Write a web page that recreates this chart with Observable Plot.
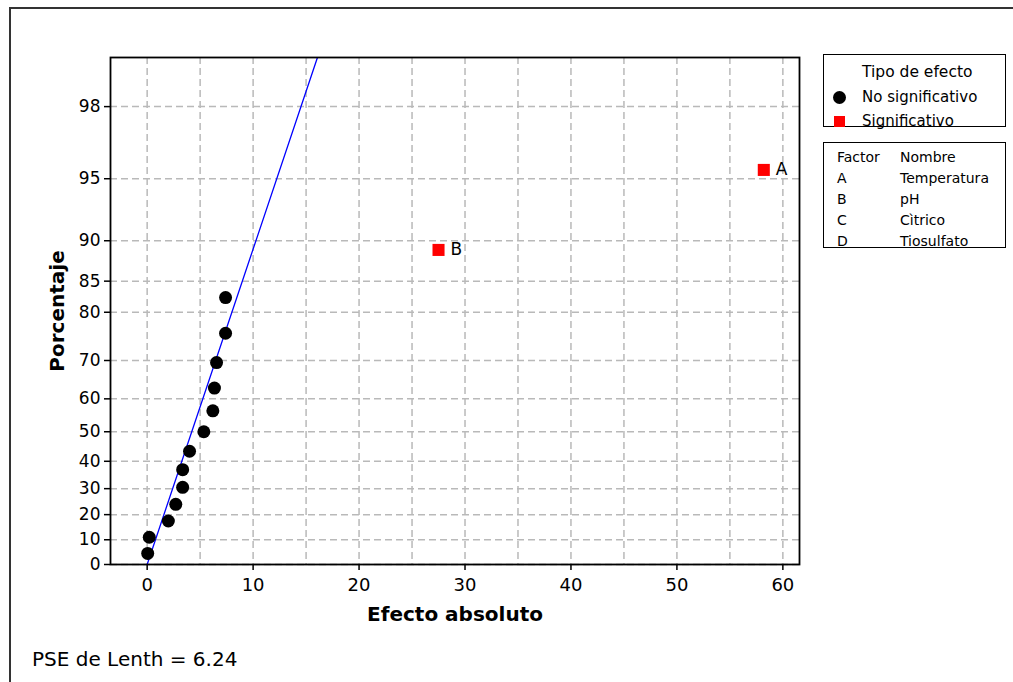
<!DOCTYPE html>
<html>
<head>
<meta charset="utf-8">
<script src="https://cdn.jsdelivr.net/npm/d3@7"></script>
<script src="https://cdn.jsdelivr.net/npm/@observablehq/plot@0.6"></script>
<style>
  html, body { margin: 0; padding: 0; background: #fff; }
  #wrap { position: relative; width: 1013px; height: 682px; overflow: hidden; font-family: "DejaVu Sans", sans-serif; color: #000; }
  #wrap svg { position: absolute; left: 0; top: 0; }
  .outer { position: absolute; left: 9px; top: 7px; width: 1100px; height: 800px; border: 2px solid #333; }
  .box { position: absolute; border: 1.5px solid #000; background: #fff; box-sizing: border-box; }
  .t { position: absolute; white-space: nowrap; line-height: 20px; height: 20px; }
  .cap { position: absolute; left: 32px; top: 647px; font-size: 20px; line-height: 24px; white-space: nowrap; }
</style>
</head>
<body>
<div id="wrap">
  <div class="outer"></div>
</div>
<script>
// ---- data ----
const effects  = [0.05, 0.2, 2.0, 2.7, 3.35, 3.35, 4.0, 5.35, 6.2, 6.35, 6.55, 7.4, 7.4, 27.5, 58.2];
const percents = [4.5, 11.0, 17.5, 24.0, 30.5, 37.0, 43.5, 50.0, 56.5, 63.0, 69.5, 76.0, 82.5, 89.0, 95.5];
const effectType = ["No significativo","No significativo","No significativo","No significativo","No significativo",
  "No significativo","No significativo","No significativo","No significativo","No significativo",
  "No significativo","No significativo","No significativo","Significativo","Significativo"];
const pointLabels = ["","","","","","","","","","","","","","B","A"];
const yTicks = [0, 10, 20, 30, 40, 50, 60, 70, 80, 85, 90, 95, 98];
const xTicks = [0, 10, 20, 30, 40, 50, 60];
const xGrid  = [0, 5, 10, 15, 20, 25, 30, 35, 40, 45, 50, 55, 60];
const yMaxPercent = 99;
const PSE = 6.24;
const factorCodes = ["A", "B", "C", "D"];
const factorNames = ["Temperatura", "pH", "Cìtrico", "Tiosulfato"];

// ---- half-normal probability transform ----
function probit(p) {
  const a=[-3.969683028665376e+01,2.209460984245205e+02,-2.759285104469687e+02,1.383577518672690e+02,-3.066479806614716e+01,2.506628277459239e+00];
  const b=[-5.447609879822406e+01,1.615858368580409e+02,-1.556989798598866e+02,6.680131188771972e+01,-1.328068155288572e+01];
  const c=[-7.784894002430293e-03,-3.223964580411365e-01,-2.400758277161838e+00,-2.549732539343734e+00,4.374664141464968e+00,2.938163982698783e+00];
  const d=[7.784695709041462e-03,3.224671290700398e-01,2.445134137142996e+00,3.754408661907416e+00];
  const plow = 0.02425, phigh = 1 - plow;
  let q, r;
  if (p < plow) {
    q = Math.sqrt(-2*Math.log(p));
    return (((((c[0]*q+c[1])*q+c[2])*q+c[3])*q+c[4])*q+c[5])/((((d[0]*q+d[1])*q+d[2])*q+d[3])*q+1);
  }
  if (p <= phigh) {
    q = p - 0.5; r = q*q;
    return (((((a[0]*r+a[1])*r+a[2])*r+a[3])*r+a[4])*r+a[5])*q/(((((b[0]*r+b[1])*r+b[2])*r+b[3])*r+b[4])*r+1);
  }
  q = Math.sqrt(-2*Math.log(1-p));
  return -(((((c[0]*q+c[1])*q+c[2])*q+c[3])*q+c[4])*q+c[5])/((((d[0]*q+d[1])*q+d[2])*q+d[3])*q+1);
}
const hz = pct => probit(0.5 + pct / 200);

const data = effects.map((e, i) => ({effect: e, z: hz(percents[i]), type: effectType[i], label: pointLabels[i]}));
const zTicks = yTicks.map(hz);
const labelOf = new Map(zTicks.map((z, i) => [z, String(yTicks[i])]));
const zTop = hz(yMaxPercent);
const refLine = [0, zTop];

const gridStyle = {stroke: "#b9b9b9", strokeOpacity: 1, strokeWidth: 1.5, strokeDasharray: "7,4"};

const chart = Plot.plot({
  width: 1013,
  height: 682,
  marginLeft: 110,
  marginRight: 214,
  marginTop: 57,
  marginBottom: 118,
  x: {domain: [-3.46, 61.57]},
  y: {domain: [0, zTop]},
  style: {fontFamily: "DejaVu Sans, sans-serif", fontSize: "17px", color: "#000", background: "transparent", overflow: "visible"},
  marks: [
    Plot.gridX(xGrid, gridStyle),
    Plot.gridY(zTicks, gridStyle),
    Plot.line(refLine, {x: z => PSE * z, y: z => z, stroke: "#0000ff", strokeWidth: 1.3, clip: true}),
    Plot.dot(data.filter(d => d.type === "No significativo"), {x: "effect", y: "z", r: 6.5, fill: "#000", stroke: "none"}),
    Plot.dot(data.filter(d => d.type === "Significativo"), {x: "effect", y: "z", r: 6.8, symbol: "square", fill: "#ff0000", stroke: "none"}),
    Plot.text(data.filter(d => d.label), {x: "effect", y: "z", text: "label", dx: 12, textAnchor: "start", fontSize: 17}),
    Plot.frame({stroke: "#000", strokeWidth: 1.8}),
    Plot.axisX(xTicks, {tickSize: 6, tickPadding: 8, label: null, fontSize: 18, strokeWidth: 1.5}),
    Plot.axisY(zTicks, {tickSize: 6, tickPadding: 4, label: null, tickFormat: z => labelOf.get(z), fontSize: 17, strokeWidth: 1.5}),
    Plot.text(["Efecto absoluto"], {text: d => d, frameAnchor: "bottom", dy: 56, textAnchor: "middle", fontWeight: "bold", fontSize: 20}),
    Plot.text(["Porcentaje"], {text: d => d, frameAnchor: "left", dx: -53, rotate: -90, textAnchor: "middle", fontWeight: "bold", fontSize: 20})
  ]
});

const wrap = document.getElementById("wrap");
wrap.appendChild(chart);

// ---- legend boxes ----
function addBox(left, top, w, h) {
  const b = document.createElement("div");
  b.className = "box";
  Object.assign(b.style, {left: left + "px", top: top + "px", width: w + "px", height: h + "px"});
  wrap.appendChild(b);
}
function addText(txt, left, cy, size) {
  const s = document.createElement("div");
  s.className = "t";
  s.textContent = txt;
  Object.assign(s.style, {left: left + "px", top: (cy - 10) + "px", fontSize: size + "px"});
  wrap.appendChild(s);
}
function addSwatch(cx, cy, shape, color) {
  const s = document.createElement("div");
  const size = shape === "circle" ? 13 : 11;
  Object.assign(s.style, {position: "absolute", left: (cx - size/2) + "px", top: (cy - size/2) + "px",
    width: size + "px", height: size + "px", background: color, borderRadius: shape === "circle" ? "50%" : "0"});
  wrap.appendChild(s);
}

addBox(823, 54, 183, 73);
addText("Tipo de efecto", 862, 72, 15.5);
addSwatch(839, 97, "circle", "#000");
addText("No significativo", 862, 97, 15);
addSwatch(839, 121, "square", "#ff0000");
addText("Significativo", 862, 121, 15);

addBox(823, 142, 183, 106);
addText("Factor", 837, 157, 14);
addText("Nombre", 900, 157, 14);
factorCodes.forEach((code, i) => {
  const cy = 178 + i * 21;
  addText(code, 837, cy, 14);
  addText(factorNames[i], 900, cy, 14);
});

const cap = document.createElement("div");
cap.className = "cap";
cap.textContent = "PSE de Lenth = " + PSE.toFixed(2);
wrap.appendChild(cap);
</script>
</body>
</html>
